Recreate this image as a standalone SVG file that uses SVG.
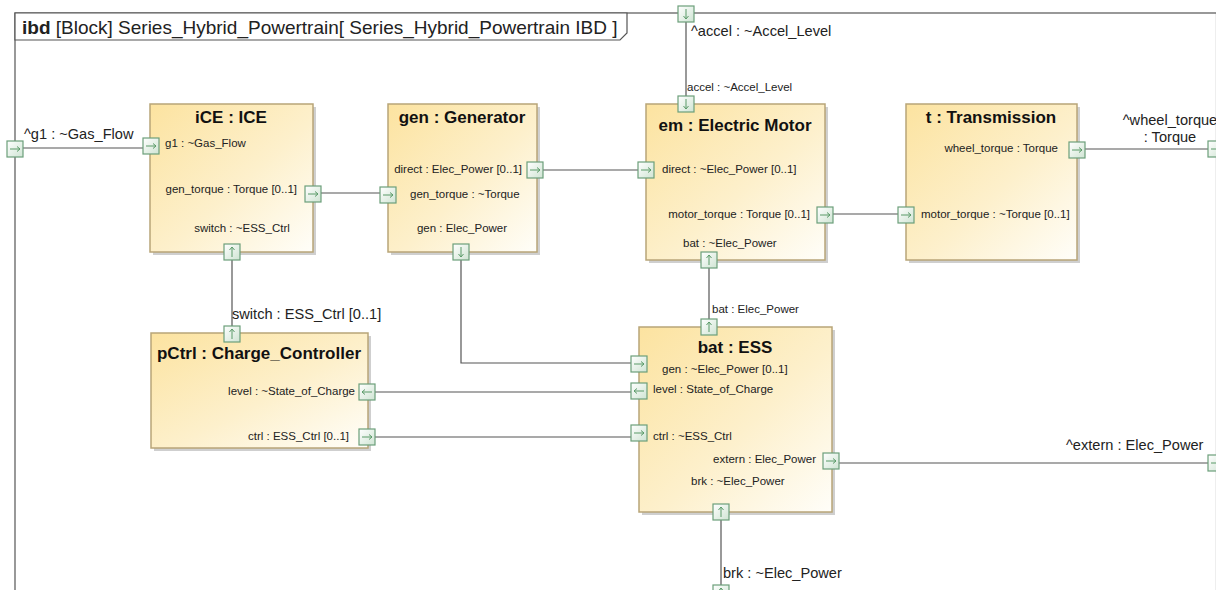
<svg xmlns="http://www.w3.org/2000/svg" xmlns:xlink="http://www.w3.org/1999/xlink" width="1216" height="590" viewBox="0 0 1216 590">
<defs>
<linearGradient id="blk" x1="0" y1="0" x2="1" y2="1">
<stop offset="0" stop-color="#fce3a0"/>
<stop offset="0.55" stop-color="#fdf0cc"/>
<stop offset="1" stop-color="#fffef9"/>
</linearGradient>
<linearGradient id="prt" x1="0" y1="0" x2="1" y2="1">
<stop offset="0" stop-color="#ffffff"/>
<stop offset="1" stop-color="#cfe4d3"/>
</linearGradient>
<g id="pR"><rect x="-8" y="-8" width="16" height="16" class="port"/><path d="M-5 0H5M2 -2.5L5 0L2 2.5" class="parr"/></g>
<g id="pL"><rect x="-8" y="-8" width="16" height="16" class="port"/><path d="M5 0H-5M-2 -2.5L-5 0L-2 2.5" class="parr"/></g>
<g id="pU"><rect x="-8" y="-8" width="16" height="16" class="port"/><path d="M0 5V-5M-2.5 -2L0 -5L2.5 -2" class="parr"/></g>
<g id="pD"><rect x="-8" y="-8" width="16" height="16" class="port"/><path d="M0 -5V5M-2.5 2L0 5L2.5 2" class="parr"/></g>
</defs>
<style>
.frame{fill:none;stroke:#555;stroke-width:1.2}
.tab{fill:#fff;stroke:#555;stroke-width:1.2}
.shadow{fill:#cfcfcf}
.block{fill:url(#blk);stroke:#b8a578;stroke-width:1.5}
.port{fill:url(#prt);stroke:#6c9f7a;stroke-width:1.2}
.parr{fill:none;stroke:#5a9a68;stroke-width:1}
.conn{fill:none;stroke:#555;stroke-width:1.2}
text{font-family:"Liberation Sans",Arial,sans-serif;fill:#222}
.title{font-size:17px;font-weight:bold;text-anchor:middle;fill:#111}
.pl{font-size:11.5px}
.cl{font-size:14.6px}
.hdr{font-size:19px}
.e{text-anchor:end}
.m{text-anchor:middle}
</style>
<rect width="1216" height="590" fill="#fff"/>
<g id="frame">
<rect x="15" y="13" width="1201.5" height="580" class="frame"/>
<path d="M15 13H627V33L620 40H15Z" class="tab"/>
<text x="22" y="34" class="hdr"><tspan font-weight="bold">ibd</tspan> [Block] Series_Hybrid_Powertrain[ Series_Hybrid_Powertrain IBD ]</text>
</g>
<g id="connectors">
<path d="M23 148H143" class="conn"/>
<path d="M321 193H380" class="conn"/>
<path d="M543 170H638" class="conn"/>
<path d="M833 214H898" class="conn"/>
<path d="M1085 149H1208" class="conn"/>
<path d="M686 22V96" class="conn"/>
<path d="M232 260V326" class="conn"/>
<path d="M461 260V363H631" class="conn"/>
<path d="M709 268V319" class="conn"/>
<path d="M375 392H631" class="conn"/>
<path d="M375 437H631" class="conn"/>
<path d="M839 463H1208" class="conn"/>
<path d="M721 519V585" class="conn"/>
<text x="24" y="139" class="cl">^g1 : ~Gas_Flow</text>
<text x="691" y="36" class="cl">^accel : ~Accel_Level</text>
<text x="687" y="91" class="pl">accel : ~Accel_Level</text>
<text x="1170" y="125" class="cl m">^wheel_torque</text>
<text x="1170" y="142" class="cl m">: Torque</text>
<text x="232" y="319" class="cl">switch : ESS_Ctrl [0..1]</text>
<text x="712" y="313" class="pl">bat : Elec_Power</text>
<text x="1066" y="450" class="cl">^extern : Elec_Power</text>
<text x="723" y="578" class="cl">brk : ~Elec_Power</text>
</g>
<g id="frame-ports">
<use href="#pR" x="15" y="149"/>
<use href="#pD" x="686" y="14"/>
<use href="#pR" x="1216" y="149"/>
<use href="#pR" x="1216" y="463"/>
<use href="#pU" x="721" y="593"/>
</g>
<g id="iCE">
<rect x="153" y="107" width="163" height="148" class="shadow"/>
<rect x="150" y="104" width="163" height="148" class="block"/>
<text x="231" y="123" class="title">iCE : ICE</text>
<text x="165" y="147" class="pl">g1 : ~Gas_Flow</text>
<text x="297" y="193" class="pl e">gen_torque : Torque [0..1]</text>
<text x="242" y="232" class="pl m">switch : ~ESS_Ctrl</text>
<use href="#pR" x="151" y="146"/>
<use href="#pR" x="313" y="194"/>
<use href="#pU" x="232" y="252"/>
</g>
<g id="gen">
<rect x="391" y="107" width="149" height="148" class="shadow"/>
<rect x="388" y="104" width="149" height="148" class="block"/>
<text x="462" y="123" class="title">gen : Generator</text>
<text x="522" y="173" class="pl e">direct : Elec_Power [0..1]</text>
<text x="410" y="198" class="pl">gen_torque : ~Torque</text>
<text x="462" y="232" class="pl m">gen : Elec_Power</text>
<use href="#pR" x="535" y="170"/>
<use href="#pR" x="388" y="195"/>
<use href="#pD" x="461" y="252"/>
</g>
<g id="em">
<rect x="649" y="107" width="179" height="156" class="shadow"/>
<rect x="646" y="104" width="179" height="156" class="block"/>
<text x="735" y="131" class="title">em : Electric Motor</text>
<text x="662" y="173" class="pl">direct : ~Elec_Power [0..1]</text>
<text x="810" y="218" class="pl e">motor_torque : Torque [0..1]</text>
<text x="683" y="247" class="pl">bat : ~Elec_Power</text>
<use href="#pD" x="686" y="104"/>
<use href="#pR" x="646" y="170"/>
<use href="#pR" x="825" y="215"/>
<use href="#pU" x="709" y="260"/>
</g>
<g id="t">
<rect x="909" y="107" width="171" height="156" class="shadow"/>
<rect x="906" y="104" width="171" height="156" class="block"/>
<text x="991" y="123" class="title">t : Transmission</text>
<text x="1058" y="152" class="pl e">wheel_torque : Torque</text>
<text x="921" y="218" class="pl">motor_torque : ~Torque [0..1]</text>
<use href="#pR" x="1077" y="150"/>
<use href="#pR" x="906" y="215"/>
</g>
<g id="pCtrl">
<rect x="154" y="336" width="217" height="115" class="shadow"/>
<rect x="151" y="333" width="217" height="115" class="block"/>
<text x="259" y="359" class="title">pCtrl : Charge_Controller</text>
<text x="355" y="395" class="pl e">level : ~State_of_Charge</text>
<text x="349" y="440" class="pl e">ctrl : ESS_Ctrl [0..1]</text>
<use href="#pU" x="232" y="334"/>
<use href="#pL" x="367" y="392"/>
<use href="#pR" x="367" y="437"/>
</g>
<g id="bat">
<rect x="642" y="330" width="193" height="185" class="shadow"/>
<rect x="639" y="327" width="193" height="185" class="block"/>
<text x="735" y="353" class="title">bat : ESS</text>
<text x="662" y="373" class="pl">gen : ~Elec_Power [0..1]</text>
<text x="653" y="393" class="pl">level : State_of_Charge</text>
<text x="653" y="440" class="pl">ctrl : ~ESS_Ctrl</text>
<text x="816" y="463" class="pl e">extern : Elec_Power</text>
<text x="691" y="485" class="pl">brk : ~Elec_Power</text>
<use href="#pU" x="709" y="327"/>
<use href="#pR" x="639" y="364"/>
<use href="#pL" x="639" y="391"/>
<use href="#pR" x="639" y="433"/>
<use href="#pR" x="831" y="461"/>
<use href="#pU" x="721" y="512"/>
</g>
</svg>
